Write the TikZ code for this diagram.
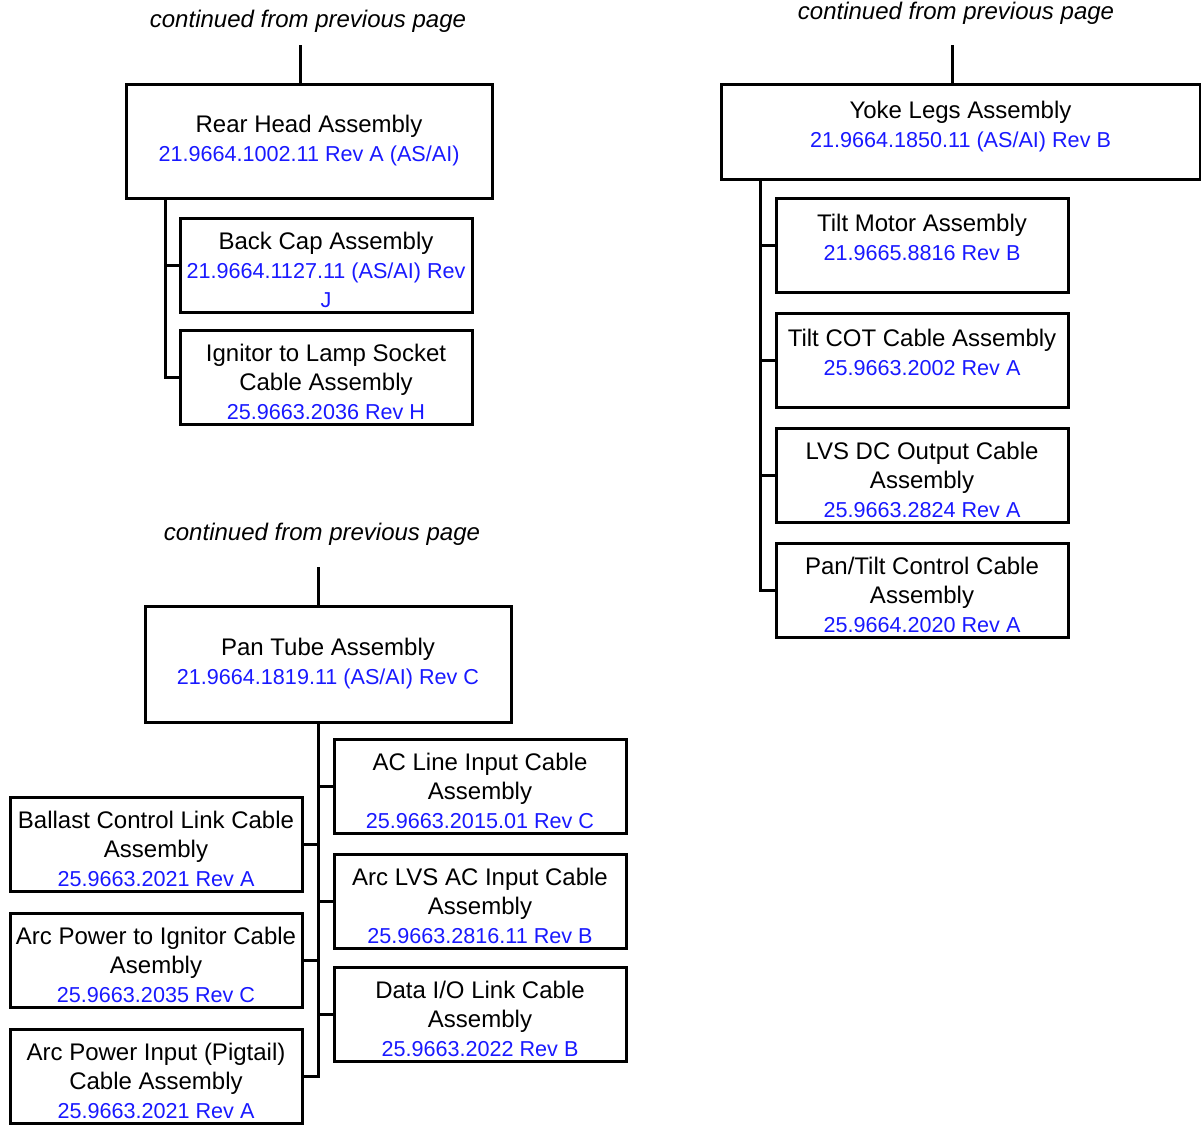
\documentclass[tikz,border=0pt]{standalone}
\usepackage{fontspec}
\setmainfont{Liberation Sans}
\usetikzlibrary{positioning}
\definecolor{pnblue}{RGB}{25,25,255}
\newcommand{\partno}[1]{{\fontsize{10.8}{14.5}\selectfont\textcolor{pnblue}{#1}}}
\newcommand{\toppad}{\mbox{}\\[-1pt]}
\newcommand{\botpad}{\\[-7pt]\mbox{}}
\tikzset{
  tree/.style={font=\fontsize{12}{14.5}\selectfont, line width=1.5pt},
  headbox/.style={
    rectangle, draw, align=center, minimum width=183pt, minimum height=57pt,
    inner sep=2pt, outer sep=0pt
  },
  partbox/.style={
    rectangle, draw, align=center, minimum width=146pt, minimum height=47pt,
    inner sep=1.5pt, outer sep=0pt
  },
  contlabel/.style={font=\fontsize{12}{14.5}\selectfont\itshape},
  branch/.style={line width=1.5pt}
}

\begin{document}
\begin{tikzpicture}[tree, x=0.5pt, y=-0.5pt, node distance=10pt]
\useasboundingbox (0,0) rectangle (1201,1130);

% 1 : Rear Head
\node[contlabel] (contrear) at (308,21) {continued from previous page};
\node[headbox] (rear) at (309,141) {Rear Head Assembly\\\partno{21.9664.1002.11 Rev A (AS/AI)}};
\coordinate (rearstub) at (300,45);
\draw[branch] (rearstub) -- (rearstub |- rear.north);

\node[partbox, below right=10pt and 27pt of rear.south west] (backcap) {\toppad Back Cap Assembly\\\partno{21.9664.1127.11 (AS/AI) Rev}\\\partno{J}};
\node[partbox, below=9pt of backcap] (ignitor) {\toppad Ignitor to Lamp Socket\\Cable Assembly\\\partno{25.9663.2036 Rev H}};
\coordinate (reartrunk) at ([xshift=19.5pt]rear.south west);
\draw[branch] (reartrunk) |- (backcap.west);
\draw[branch] (reartrunk) |- (ignitor.west);

% 2 : Yoke Legs
\node[contlabel] (contyoke) at (956,13) {continued from previous page};
\node[headbox, minimum width=239.5pt, minimum height=47.5pt] (yoke) at (960.5,131.5) {Yoke Legs Assembly\\\partno{21.9664.1850.11 (AS/AI) Rev B}\botpad};
\coordinate (yokestub) at (952,45);
\draw[branch] (yokestub) -- (yokestub |- yoke.north);

\node[partbox, below right=9.5pt and 27.5pt of yoke.south west] (tiltmotor) {Tilt Motor Assembly\\\partno{21.9665.8816 Rev B}\botpad};
\node[partbox, below=10.5pt of tiltmotor] (tiltcot) {Tilt COT Cable Assembly\\\partno{25.9663.2002 Rev A}\botpad};
\node[partbox, below=10.5pt of tiltcot] (lvsdc) {\toppad LVS DC Output Cable\\Assembly\\\partno{25.9663.2824 Rev A}};
\node[partbox, below=10.5pt of lvsdc] (pantilt) {\toppad Pan/Tilt Control Cable\\Assembly\\\partno{25.9664.2020 Rev A}};
\coordinate (yoketrunk) at ([xshift=19.5pt]yoke.south west);
\foreach \part in {tiltmotor,tiltcot,lvsdc,pantilt}
  \draw[branch] (yoketrunk) |- (\part.west);

% 3 : Pan Tube
\node[contlabel] (contpan) at (322,534) {continued from previous page};
\node[headbox, minimum height=58pt] (pan) at (328,664) {Pan Tube Assembly\\\partno{21.9664.1819.11 (AS/AI) Rev C}};
\coordinate (panstub) at (318,567);
\draw[branch] (panstub) -- (panstub |- pan.north);

% right column
\node[partbox, below right=8.5pt and 94.5pt of pan.south west] (acline) {\toppad AC Line Input Cable\\Assembly\\\partno{25.9663.2015.01 Rev C}};
\node[partbox, below=10.5pt of acline] (arclvs) {\toppad Arc LVS AC Input Cable\\Assembly\\\partno{25.9663.2816.11 Rev B}};
\node[partbox, below=9.5pt of arclvs] (dataio) {\toppad Data I/O Link Cable\\Assembly\\\partno{25.9663.2022 Rev B}};

% left column
\node[partbox] (ballast) at (156,844) {\toppad Ballast Control Link Cable\\Assembly\\\partno{25.9663.2021 Rev A}};
\node[partbox, below=11pt of ballast] (arcign) {\toppad Arc Power to Ignitor Cable\\Asembly\\\partno{25.9663.2035 Rev C}};
\node[partbox, below=11pt of arcign] (arcinput) {\toppad Arc Power Input (Pigtail)\\Cable Assembly\\\partno{25.9663.2021 Rev A}};

\coordinate (pantrunk) at ([xshift=86.5pt]pan.south west);
\foreach \part in {acline,arclvs,dataio}
  \draw[branch] (pantrunk) |- (\part.west);
\foreach \part in {ballast,arcign,arcinput}
  \draw[branch] (pantrunk) |- (\part.east);

\end{tikzpicture}
\end{document}
